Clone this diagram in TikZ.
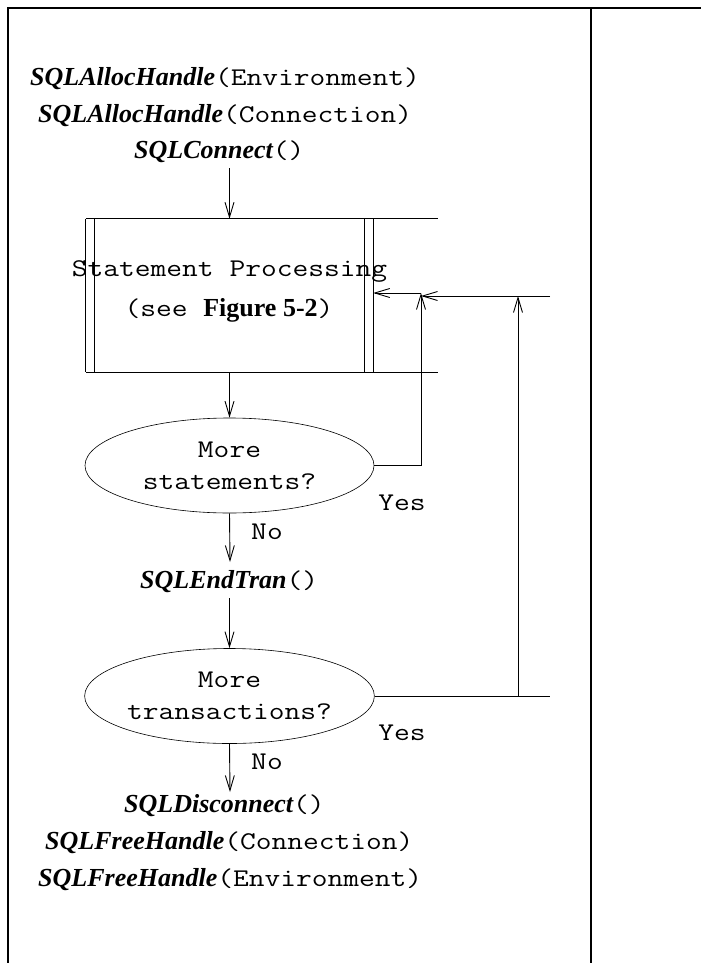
\documentclass[tikz,border=0pt]{standalone}
\usepackage{fontspec}
\setmainfont{Liberation Serif}
\setmonofont[FakeStretch=1.2]{Latin Modern Mono}
\usetikzlibrary{arrows.meta,shapes.geometric}

% function names: serif bold italic; arguments: typewriter
\newcommand\fn[1]{{\rmfamily\bfseries\itshape\fontsize{26}{32}\selectfont #1}}

\tikzset{
  txt/.style={inner sep=0pt, font=\fontsize{25.5}{32}\selectfont\ttfamily},
  api/.style={txt, anchor=base west},
  flow/.style={line width=0.9pt, -{Straight Barb[length=15pt,width=9pt]}},
  wire/.style={line width=0.9pt},
  frame/.style={line width=1.2pt},
  boxline/.style={line width=1.1pt},
  decision/.style={ellipse, draw, line width=0.6pt, inner sep=0pt,
    minimum width=289pt, minimum height=95pt, align=center,
    font=\fontsize{25.5}{32}\selectfont\ttfamily},
}

\begin{document}
\begin{tikzpicture}[x=1pt, y=-1pt]
\useasboundingbox (0,0) rectangle (701,963);

% page frame
\draw[frame] (8,963) -- (8,8) -- (701,8);
\draw[frame] (591,8) -- (591,963);

% setup calls
\node[api] (t1) at (30,86)  {\fn{SQLAllocHandle}(Environment)};
\node[api] (t2) at (38,122) {\fn{SQLAllocHandle}(Connection)};
\node[api] (t3) at (134,158) {\fn{SQLConnect}()};

% statement processing block
\node[minimum width=287pt, minimum height=153pt, inner sep=0pt] (proc) at (229.5,295.5) {};
\draw[boxline] (proc.north west) -- ++(352,0);
\draw[boxline] (proc.south west) -- ++(352,0);
\draw[boxline] (proc.north west) -- (proc.south west);
\draw[boxline] ([xshift=9pt]proc.north west) -- ([xshift=9pt]proc.south west);
\draw[boxline] (proc.north east) -- (proc.south east);
\draw[boxline] ([xshift=-9pt]proc.north east) -- ([xshift=-9pt]proc.south east);
\node[txt] (procA) at (229.5,271) {Statement Processing};
\node[txt] (procB) at (229,310) {(see \textrm{\bfseries\fontsize{26}{32}\selectfont Figure 5-2})};

% decisions
\node[decision] (q1) at (229.5,465.5) {More\\statements?};
\node[api] (endtran) at (140,588) {\fn{SQLEndTran}()};
\node[decision] (q2) at (229.5,696) {More\\transactions?};

% cleanup calls
\node[api] (b1) at (124,812) {\fn{SQLDisconnect}()};
\node[api] (b2) at (45,849)  {\fn{SQLFreeHandle}(Connection)};
\node[api] (b3) at (38,886)  {\fn{SQLFreeHandle}(Environment)};

% branch labels
\node[txt] (y1) at (402,503) {Yes};
\node[txt] (n1) at (267,532) {No};
\node[txt] (y2) at (402,733) {Yes};
\node[txt] (n2) at (267,762) {No};

% main flow
\draw[flow, shorten <=10pt] (t3.base -| proc.north) -- (proc.north);
\draw[flow] (proc.south) -- (q1.north);
\draw[flow] (q1.south) -- (230,562);
\draw[flow, shorten <=10pt] (endtran.base -| q2.north) -- (q2.north);
\draw[flow] (q2.south) -- (230,792);

% loops back
\coordinate (j1) at (421,293);
\coordinate (in1) at (550,296);
\coordinate (j2) at (518,296);
\draw[flow] (q1.east) -| (j1);
\draw[flow] (j1) -- (j1 -| proc.east);
\draw[flow] (in1) -- (in1 -| j1);
\draw[wire] (q2.east) -- (q2.east -| in1);
\draw[flow] (q2.east -| j2) -- (j2);
\end{tikzpicture}
\end{document}
